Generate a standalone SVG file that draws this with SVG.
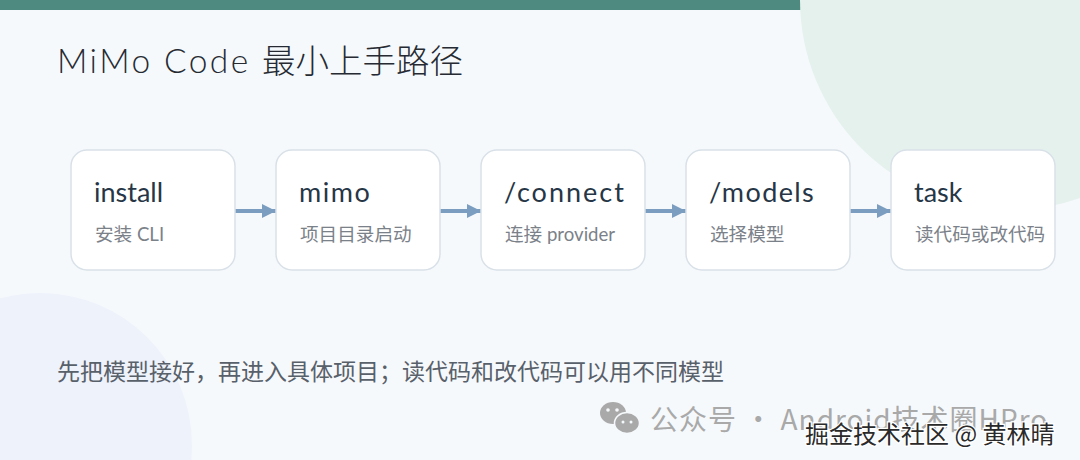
<svg xmlns="http://www.w3.org/2000/svg" width="1080" height="460" viewBox="0 0 1080 460">
<defs>
<style>
.bg{fill:#f6f9fc}
.node rect{fill:#ffffff;stroke:#d9e1e8;stroke-width:1.5}
.cmd{font-family:Lato,"Noto Sans","Noto Sans CJK SC",sans-serif;font-size:27px;fill:#263646}
.sub{font-family:Lato,"Noto Sans CJK SC",sans-serif;font-size:18.6px;fill:#7b8189}
.title{font-family:Lato,"Noto Sans CJK SC",sans-serif;font-size:33.5px;font-weight:300;fill:#262b33}
.note{font-family:"Noto Sans CJK SC",sans-serif;font-size:23px;fill:#58606a}
.conn line{stroke:#7b9dc0;stroke-width:4}
</style>
<marker id="arr" viewBox="0 0 10 10" refX="10" refY="5" markerWidth="3.6" markerHeight="4.2" markerUnits="strokeWidth" orient="auto">
<path d="M0,0 L10,5 L0,10 z" fill="#7b9dc0"/>
</marker>
</defs>
<rect class="bg" x="0" y="0" width="1080" height="460"/>
<rect x="0" y="0" width="812" height="10" fill="#4f8a80"/>
<circle cx="1010" cy="0" r="210" fill="#e5f1ed"/>
<circle cx="40" cy="445" r="152" fill="#eef2fb"/>
<text class="title" x="57" y="73"><tspan letter-spacing="2.4">MiMo Code </tspan>最小上手路径</text>
<g id="connectors" class="conn">
<line x1="235" y1="211" x2="276" y2="211" marker-end="url(#arr)"/>
<line x1="440" y1="211" x2="481" y2="211" marker-end="url(#arr)"/>
<line x1="645" y1="211" x2="686" y2="211" marker-end="url(#arr)"/>
<line x1="850" y1="211" x2="891" y2="211" marker-end="url(#arr)"/>
</g>
<g id="node-install" class="node">
<rect x="71" y="150" width="164" height="120" rx="16"/>
<text class="cmd" x="94" y="202">install</text>
<text class="sub" x="95" y="241">安装 CLI</text>
</g>
<g id="node-mimo" class="node">
<rect x="276" y="150" width="164" height="120" rx="16"/>
<text class="cmd" x="299" y="202" letter-spacing="1.5">mimo</text>
<text class="sub" x="300" y="241">项目目录启动</text>
</g>
<g id="node-connect" class="node">
<rect x="481" y="150" width="164" height="120" rx="16"/>
<text class="cmd" x="504" y="202" letter-spacing="2">/connect</text>
<text class="sub" x="505" y="241">连接 provider</text>
</g>
<g id="node-models" class="node">
<rect x="686" y="150" width="164" height="120" rx="16"/>
<text class="cmd" x="709" y="202" letter-spacing="1.4">/models</text>
<text class="sub" x="710" y="241">选择模型</text>
</g>
<g id="node-task" class="node">
<rect x="891" y="150" width="164" height="120" rx="16"/>
<text class="cmd" x="914" y="202">task</text>
<text class="sub" x="915" y="241">读代码或改代码</text>
</g>
<text class="note" x="57" y="380">先把模型接好，再进入具体项目；读代码和改代码可以用不同模型</text>
<g id="watermark" fill="#a9a9a9">
<ellipse cx="613" cy="413" rx="13" ry="11"/>
<ellipse cx="627" cy="423" rx="12.5" ry="10.5" stroke="#f6f9fc" stroke-width="1.5"/>
<circle cx="608" cy="410" r="1.8" fill="#f6f9fc"/>
<circle cx="617" cy="410" r="1.8" fill="#f6f9fc"/>
<circle cx="623" cy="422" r="1.5" fill="#f6f9fc"/>
<circle cx="631" cy="422" r="1.5" fill="#f6f9fc"/>
<text x="650" y="430" font-family="'Noto Sans CJK SC',sans-serif" font-size="28" letter-spacing="1">公众号 · Android技术圈HPro</text>
</g>
<text x="805" y="443" font-family="'Noto Sans CJK SC',sans-serif" font-size="24" fill="#2a2a2a" stroke="#ffffff" stroke-width="2.5" paint-order="stroke">掘金技术社区 @ 黄林晴</text>
</svg>
